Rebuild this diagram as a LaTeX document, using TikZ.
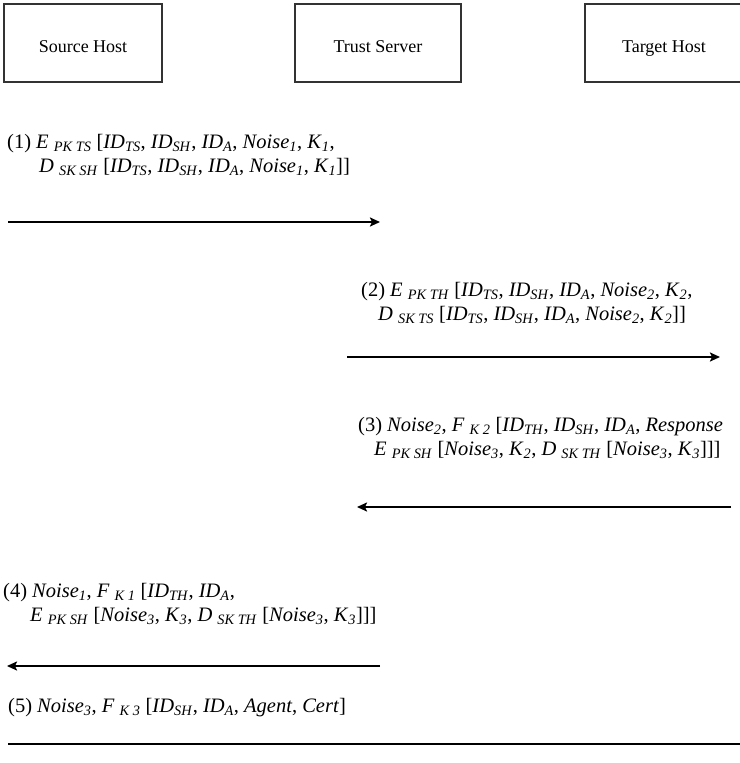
\documentclass[tikz,border=0pt]{standalone}
\usepackage{fontspec}
\setmainfont{Liberation Serif}
\usetikzlibrary{arrows.meta}

\newcommand{\ix}[2]{\textit{#1}\textsubscript{\textit{#2}}}
\newcommand{\op}[2]{\textit{#1} \textsubscript{\textit{#2}}}
\newcommand{\ind}[1]{\hspace*{#1}}

\tikzstyle{host} = [rectangle, minimum height=78pt, text height=22pt, text depth=4pt, text centered, draw=black!80, line width=1.2pt, font=\fontsize{18}{22}\selectfont]
\tikzstyle{msg} = [anchor=base west, align=left, inner sep=0pt, font=\fontsize{20.5}{24}\selectfont]
\tikzstyle{arrow} = [line width=2.2pt,->,>={Stealth[length=10pt,width=9pt,inset=2pt]}]

\begin{document}
\begin{tikzpicture}[x=1pt,y=1pt]
        \useasboundingbox (0,0) rectangle (739,-763);

        \node (src) [host, minimum width=158pt] at (83,-43) {Source Host};
        \node (ts) [host, minimum width=166pt] at (378,-43) {Trust Server};
        \node (tgt) [host, minimum width=158pt] at (664,-43) {Target Host};

        % message 1
        \node (t1) [msg] at (7,-172) {(1) \op{E}{PK TS} [\ix{ID}{TS}, \ix{ID}{SH}, \ix{ID}{A}, \ix{Noise}{1}, \ix{K}{1},\\
            \ind{32pt}\op{D}{SK SH} [\ix{ID}{TS}, \ix{ID}{SH}, \ix{ID}{A}, \ix{Noise}{1}, \ix{K}{1}]]};
        \coordinate (a1s) at (8,-222);
        \coordinate (a1e) at (380,-222);
        \draw [arrow] (a1s) -- (a1e);

        % message 2
        \node (t2) [msg] at (361,-320) {(2) \op{E}{PK TH} [\ix{ID}{TS}, \ix{ID}{SH}, \ix{ID}{A}, \ix{Noise}{2}, \ix{K}{2},\\
            \ind{17pt}\op{D}{SK TS} [\ix{ID}{TS}, \ix{ID}{SH}, \ix{ID}{A}, \ix{Noise}{2}, \ix{K}{2}]]};
        \coordinate (a2s) at (347,-357);
        \coordinate (a2e) at (720,-357);
        \draw [arrow] (a2s) -- (a2e);

        % message 3
        \node (t3) [msg] at (358,-455) {(3) \ix{Noise}{2}, \op{F}{K 2} [\ix{ID}{TH}, \ix{ID}{SH}, \ix{ID}{A}, \textit{Response}\\
            \ind{16pt}\op{E}{PK SH} [\ix{Noise}{3}, \ix{K}{2}, \op{D}{SK TH} [\ix{Noise}{3}, \ix{K}{3}]]]};
        \coordinate (a3s) at (731,-507);
        \coordinate (a3e) at (357,-507);
        \draw [arrow] (a3s) -- (a3e);

        % message 4
        \node (t4) [msg] at (3,-621) {(4) \ix{Noise}{1}, \op{F}{K 1} [\ix{ID}{TH}, \ix{ID}{A},\\
            \ind{27pt}\op{E}{PK SH} [\ix{Noise}{3}, \ix{K}{3}, \op{D}{SK TH} [\ix{Noise}{3}, \ix{K}{3}]]]};
        \coordinate (a4s) at (380,-666);
        \coordinate (a4e) at (7,-666);
        \draw [arrow] (a4s) -- (a4e);

        % message 5
        \node (t5) [msg] at (8,-712) {(5) \ix{Noise}{3}, \op{F}{K 3} [\ix{ID}{SH}, \ix{ID}{A}, \textit{Agent}, \textit{Cert}]};
        \coordinate (a5s) at (8,-744);
        \coordinate (a5e) at (745,-744);
        \draw [line width=2.8pt] (a5s) -- (a5e);
    \end{tikzpicture}
\end{document}
